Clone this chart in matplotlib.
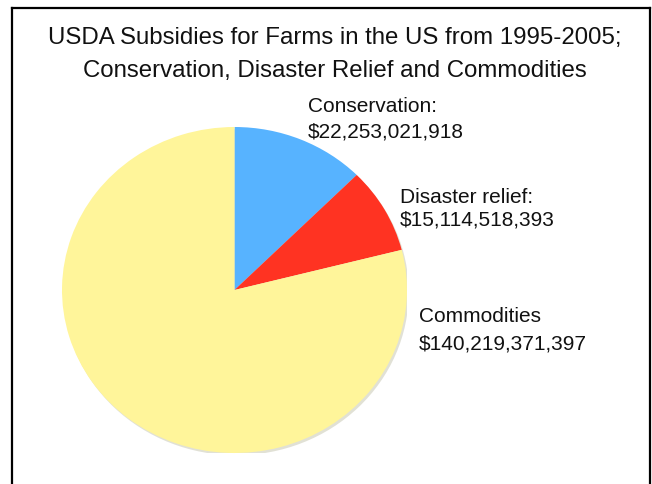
import matplotlib.pyplot as plt
from matplotlib.patches import Ellipse
from matplotlib.lines import Line2D

plt.rcParams['font.family'] = ['Liberation Sans', 'DejaVu Sans']

# data
categories = ['Conservation', 'Disaster relief', 'Commodities']
amounts = [22253021918, 15114518393, 140219371397]
label_names = ['Conservation:', 'Disaster relief:', 'Commodities']
colors = ['#57b3ff', '#ff3322', '#fff59a']
title_lines = ['USDA Subsidies for Farms in the US from 1995-2005;',
               'Conservation, Disaster Relief and Commodities']

W, H = 652, 485
fig = plt.figure(figsize=(W / 100, H / 100), dpi=100)

def fx(px):
    return px / W

def fy(py):
    return 1 - py / H

# frame (bottom is cropped off)
fig.add_artist(Line2D([fx(11.5), fx(11.5)], [0, fy(9)], color='black', lw=1.6))
fig.add_artist(Line2D([fx(11.5), fx(649.5)], [fy(9), fy(9)], color='black', lw=1.6))
fig.add_artist(Line2D([fx(649.5), fx(649.5)], [0, fy(9)], color='black', lw=1.6))

# title, two lines
for line, base in zip(title_lines, [44, 77]):
    fig.text(fx(335), fy(base), line, ha='center', va='baseline', fontsize=17.3,
             color='#111111')

# pie axes: slightly wider than tall like the original
ax = fig.add_axes([fx(62), fy(454), 345 / W, 326 / H])
ax.add_patch(Ellipse((0.01, -0.014), 2.0, 2.0, color='#c9c9b4', alpha=0.55, zorder=0, lw=0))
wedges, _ = ax.pie(amounts, colors=colors, startangle=90, counterclock=False,
                   radius=1, wedgeprops=dict(linewidth=0))
for w in wedges:
    w.set_zorder(2)
ax.set_aspect('auto')
ax.set_xlim(-1, 1)
ax.set_ylim(-1, 1)
ax.axis('off')

# labels: name line + amount line (baselines)
label_pos = [(308, 112, 137), (400, 203, 226), (419, 322, 350)]
for name, amt, (x, y1, y2) in zip(label_names, amounts, label_pos):
    fig.text(fx(x), fy(y1), name, ha='left', va='baseline', fontsize=15, color='#111111')
    fig.text(fx(x), fy(y2), '${:,}'.format(amt), ha='left', va='baseline', fontsize=15,
             color='#111111')

fig.savefig('out.png', dpi=100)
